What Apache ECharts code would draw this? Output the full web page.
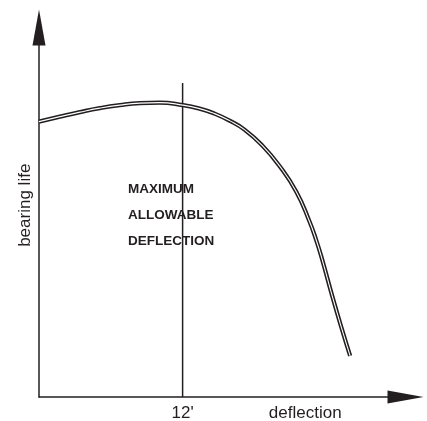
<!DOCTYPE html>
<html>
<head>
<meta charset="utf-8">
<script src="https://cdn.jsdelivr.net/npm/echarts@6/dist/echarts.min.js"></script>
<style>
  html, body { margin: 0; padding: 0; background: #fff; }
  #chart { width: 427px; height: 421px; }
</style>
</head>
<body>
<div id="chart"></div>
<script>
var myChart = echarts.init(document.getElementById('chart'), null, {renderer: 'canvas'});

// deflection in arc minutes, bearing life in % of axis height
var deflection = [0, 1.75, 3.42, 5.08, 6.75, 8.42, 10.08, 12, 13.42, 14.67, 15.92, 17.17, 18.67, 20.08, 21.5, 22.58, 23.17, 23.67, 24.5, 25.33, 26];
var bearingLife = [74.53, 75.88, 77.10, 78.18, 79.00, 79.54, 79.67, 79.00, 78.05, 76.69, 74.80, 72.36, 68.02, 62.60, 55.56, 47.70, 42.41, 37.13, 27.37, 18.16, 11.11];
var limitX = 12;
var limitTop = 85;
var xTickValues = [12];
var noteLines = ['MAXIMUM', 'ALLOWABLE', 'DEFLECTION'];

var ink = '#231f20';
var font = 'Liberation Sans, Arial, sans-serif';
var curve = deflection.map(function (x, i) { return [x, bearingLife[i]]; });

option = {
    animation: false,
    grid: {
        left: 39,
        right: 21.5,
        top: 27.5,
        bottom: 24,
        containLabel: false,
        outerBoundsMode: 'none'
    },
    xAxis: {
        type: 'value',
        min: 0,
        max: 30.625,
        name: 'deflection',
        nameLocation: 'middle',
        nameGap: 8,
        nameMoveOverlap: false,
        nameTextStyle: {
            color: ink,
            fontFamily: font,
            fontSize: 17,
            verticalAlign: 'top',
            padding: [0, 0, 0, 166]
        },
        axisLine: {
            lineStyle: {color: ink, width: 1.5},
            symbol: ['none', 'triangle'],
            symbolSize: [13, 36]
        },
        axisTick: {show: false},
        splitLine: {show: false},
        axisLabel: {
            customValues: xTickValues,
            margin: 8,
            color: ink,
            fontFamily: font,
            fontSize: 17,
            formatter: function (v) { return v + "'"; }
        }
    },
    yAxis: {
        type: 'value',
        min: 0,
        max: 100,
        name: 'bearing life',
        nameLocation: 'middle',
        nameGap: 5,
        nameMoveOverlap: false,
        nameTextStyle: {
            color: ink,
            fontFamily: font,
            fontSize: 17,
            padding: [0, 0, 0, 14]
        },
        axisLine: {
            lineStyle: {color: ink, width: 1.5},
            symbol: ['none', 'triangle'],
            symbolSize: [13, 36]
        },
        axisTick: {show: false},
        axisLabel: {show: false},
        splitLine: {show: false}
    },
    graphic: [{
        type: 'text',
        left: 128,
        top: 176,
        style: {
            text: noteLines.join('\n'),
            fill: ink,
            font: 'bold 13.5px "Liberation Sans", Arial, sans-serif',
            lineHeight: 26
        }
    }],
    series: [
        {
            name: 'limit',
            type: 'line',
            data: [[limitX, 0], [limitX, limitTop]],
            symbol: 'none',
            lineStyle: {color: ink, width: 1.5}
        },
        {
            name: 'life outer',
            type: 'line',
            data: curve,
            smooth: 0.5,
            symbol: 'none',
            lineStyle: {color: ink, width: 4.2}
        },
        {
            name: 'life inner',
            type: 'line',
            data: curve,
            smooth: 0.5,
            symbol: 'none',
            lineStyle: {color: '#ffffff', width: 1.1}
        }
    ]
};

myChart.setOption(option);
</script>
</body>
</html>
